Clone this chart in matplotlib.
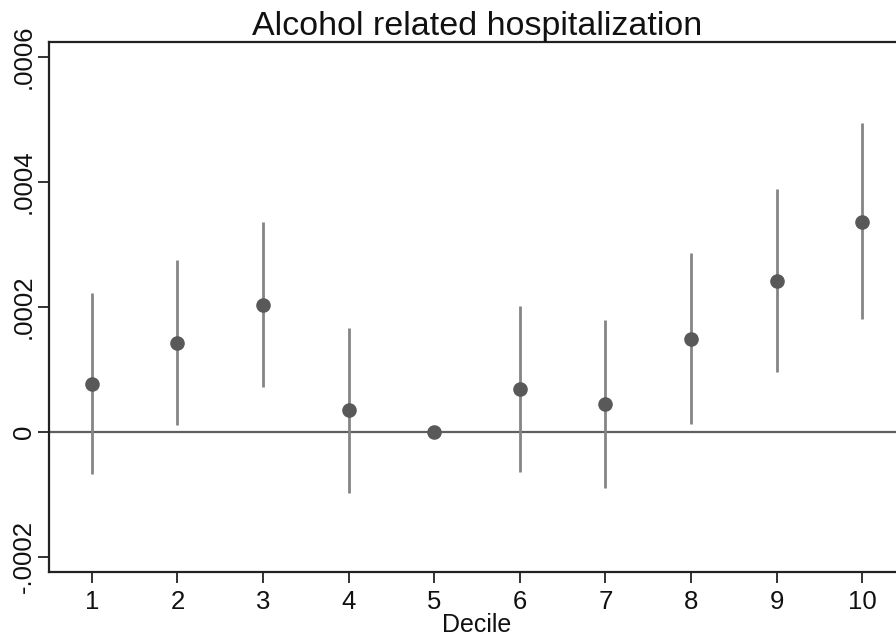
#!/usr/bin/env python3
"""Decile coefficients with confidence intervals for alcohol related hospitalization."""

import matplotlib

matplotlib.use("Agg")
import matplotlib.pyplot as plt

deciles = [1, 2, 3, 4, 5, 6, 7, 8, 9, 10]
estimates = [7.63e-5, 1.424e-4, 2.027e-4, 3.47e-5, 0.0, 6.83e-5, 4.43e-5, 1.488e-4, 2.416e-4, 3.36e-4]
ci_low = [-6.82e-5, 1.07e-5, 7.1e-5, -9.76e-5, 0.0, -6.4e-5, -9.0e-5, 1.18e-5, 9.6e-5, 1.798e-4]
ci_high = [2.214e-4, 2.747e-4, 3.35e-4, 1.654e-4, 0.0, 2.01e-4, 1.787e-4, 2.864e-4, 3.883e-4, 4.934e-4]

y_ticks = [-0.0002, 0.0, 0.0002, 0.0004, 0.0006]
y_tick_labels = ["-.0002", "0", ".0002", ".0004", ".0006"]

plt.rcParams["font.family"] = ["Liberation Sans", "DejaVu Sans"]

fig = plt.figure(figsize=(8.96, 6.4), dpi=100)
ax = fig.add_axes([49 / 896, 68.3 / 640, 856 / 896, 529.7 / 640])

ax.axhline(0, color="#5f5f5f", linewidth=1.6, zorder=1)

# confidence intervals, skipping the reference decile with no spread
for d, lo, hi in zip(deciles, ci_low, ci_high):
    if hi > lo:
        ax.vlines(d, lo, hi, color="#858585", linewidth=2.0, zorder=2)

ax.plot(deciles, estimates, "o", color="#595959", markersize=10.5,
        markeredgewidth=0, zorder=3)

ax.set_xlim(0.5, 10.5)
ax.set_ylim(-0.000224, 0.0006235)
ax.set_xticks(deciles)
ax.set_xticklabels([str(d) for d in deciles])
ax.set_yticks(y_ticks)
ax.set_yticklabels(y_tick_labels, rotation=90, va="center")

for side in ax.spines.values():
    side.set_color("#222222")
    side.set_linewidth(1.6)

ax.tick_params(axis="both", direction="out", length=8, width=1.4,
               color="#333333", labelsize=18.5, labelcolor="#111111")
ax.tick_params(axis="x", pad=5.5)
ax.tick_params(axis="y", pad=1.5)

ax.set_xlabel("Decile", fontsize=18, color="#111111", labelpad=-1)
ax.set_title("Alcohol related hospitalization", fontsize=24.5, color="#111111", pad=3)

fig.savefig("out.png", dpi=100, facecolor="white")
